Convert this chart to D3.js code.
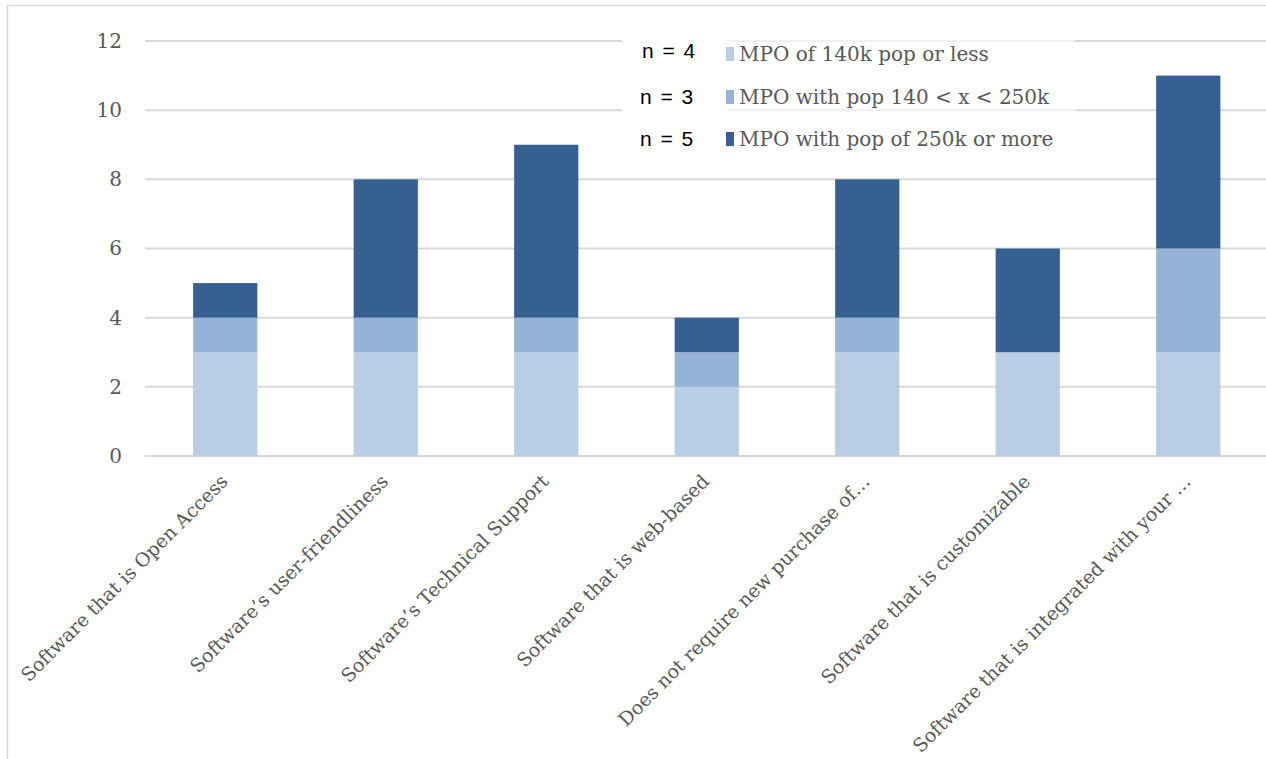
<!DOCTYPE html>
<html>
<head>
<meta charset="utf-8">
<script src="https://cdn.jsdelivr.net/npm/d3@7"></script>
<style>
  html, body { margin: 0; padding: 0; background: #fff; }
  svg { display: block; }
</style>
</head>
<body>
<div id="chart"></div>
<script>
// Software priorities by MPO population size (stacked counts)
const categories = [
  "Software that is Open Access",
  "Software\u2019s user-friendliness",
  "Software\u2019s Technical Support",
  "Software that is web-based",
  "Does not require new purchase of\u2026",
  "Software that is customizable",
  "Software that is integrated with your \u2026"
];
const seriesNames = [
  "MPO of 140k pop or less",
  "MPO with pop 140 < x < 250k",
  "MPO with pop of 250k or more"
];
const sampleSizes = ["n = 4", "n = 3", "n = 5"];
const smallMPO  = [3, 3, 3, 2, 3, 3, 3];
const midMPO    = [1, 1, 1, 1, 1, 0, 3];
const largeMPO  = [1, 4, 5, 1, 4, 3, 5];
const yTicks = [0, 2, 4, 6, 8, 10, 12];
const colors = ["#B9CDE5", "#95B3D7", "#366092"];

const W = 1266, H = 759;
const svg = d3.select("#chart").append("svg")
  .attr("width", W).attr("height", H);

const serif = "'DejaVu Serif', serif";
const textColor = "#595959";
const gridColor = "#D9D9D9";

// chart frame
svg.append("rect")
  .attr("x", 7.5).attr("y", 5.5)
  .attr("width", W + 20).attr("height", H + 20)
  .attr("fill", "none").attr("stroke", gridColor).attr("stroke-width", 1.5);

const x = d3.scaleBand()
  .domain(categories)
  .range([145, 1268.5])
  .paddingInner(0.6)
  .paddingOuter(0.3);

const y = d3.scaleLinear().domain([0, 12]).range([456, 41]);

// gridlines and y labels
const yAxis = d3.axisLeft(y).tickValues(yTicks).tickSize(0).tickPadding(23);
const yG = svg.append("g").attr("transform", "translate(145,0)").call(yAxis);
yG.select(".domain").remove();
yG.selectAll("text")
  .attr("font-family", serif).attr("font-size", 20)
  .attr("fill", textColor);

svg.append("g").selectAll("line")
  .data(yTicks).join("line")
  .attr("x1", 145).attr("x2", 1268)
  .attr("y1", d => y(d)).attr("y2", d => y(d))
  .attr("stroke", gridColor).attr("stroke-width", 2);

// stacked bars
const rows = categories.map((c, i) => ({
  cat: c, s0: smallMPO[i], s1: midMPO[i], s2: largeMPO[i]
}));
const stack = d3.stack().keys(["s0", "s1", "s2"]);
const layers = stack(rows);

svg.append("g").selectAll("g")
  .data(layers).join("g")
  .attr("fill", (d, i) => colors[i])
  .selectAll("rect")
  .data(d => d.filter(p => p[1] > p[0]))
  .join("rect")
  .attr("x", d => x(d.data.cat))
  .attr("width", x.bandwidth())
  .attr("y", d => y(d[1]))
  .attr("height", d => y(d[0]) - y(d[1]));

// x labels, rotated
const xAxis = d3.axisBottom(x).tickSize(0).tickPadding(0);
const xG = svg.append("g").attr("transform", "translate(0,466)").call(xAxis);
xG.select(".domain").remove();
xG.selectAll(".tick text")
  .attr("font-family", serif).attr("font-size", 19)
  .attr("fill", textColor)
  .attr("text-anchor", "end")
  .attr("y", 0).attr("dy", "0.72em")
  .attr("transform", "translate(-6,7) rotate(-45)");

// legend
const legendBox = svg.append("g");
legendBox.append("rect")
  .attr("x", 622).attr("y", 30).attr("width", 105).attr("height", 130)
  .attr("fill", "#fff");
legendBox.append("rect")
  .attr("x", 727).attr("y", 30).attr("width", 348).attr("height", 130)
  .attr("fill", "#fff").attr("fill-opacity", 0.6);

const rowY = [54, 97, 139];
const lg = svg.append("g").selectAll("g")
  .data(seriesNames).join("g")
  .attr("transform", (d, i) => `translate(0,${rowY[i]})`);
lg.append("rect")
  .attr("x", 726).attr("y", -7).attr("width", 8).attr("height", 14)
  .attr("fill", (d, i) => colors[i]);
lg.append("text")
  .attr("x", 739).attr("y", 0).attr("dy", "0.36em")
  .attr("font-family", serif).attr("font-size", 20)
  .attr("fill", textColor)
  .text(d => d);

svg.append("g").selectAll("text")
  .data(sampleSizes).join("text")
  .attr("x", (d, i) => i === 0 ? 642 : 640)
  .attr("y", (d, i) => [58, 104, 146][i])
  .attr("font-family", "'Liberation Sans', Arial, sans-serif")
  .attr("font-size", 21)
  .attr("word-spacing", 3)
  .attr("fill", "#000")
  .text(d => d);
</script>
</body>
</html>
